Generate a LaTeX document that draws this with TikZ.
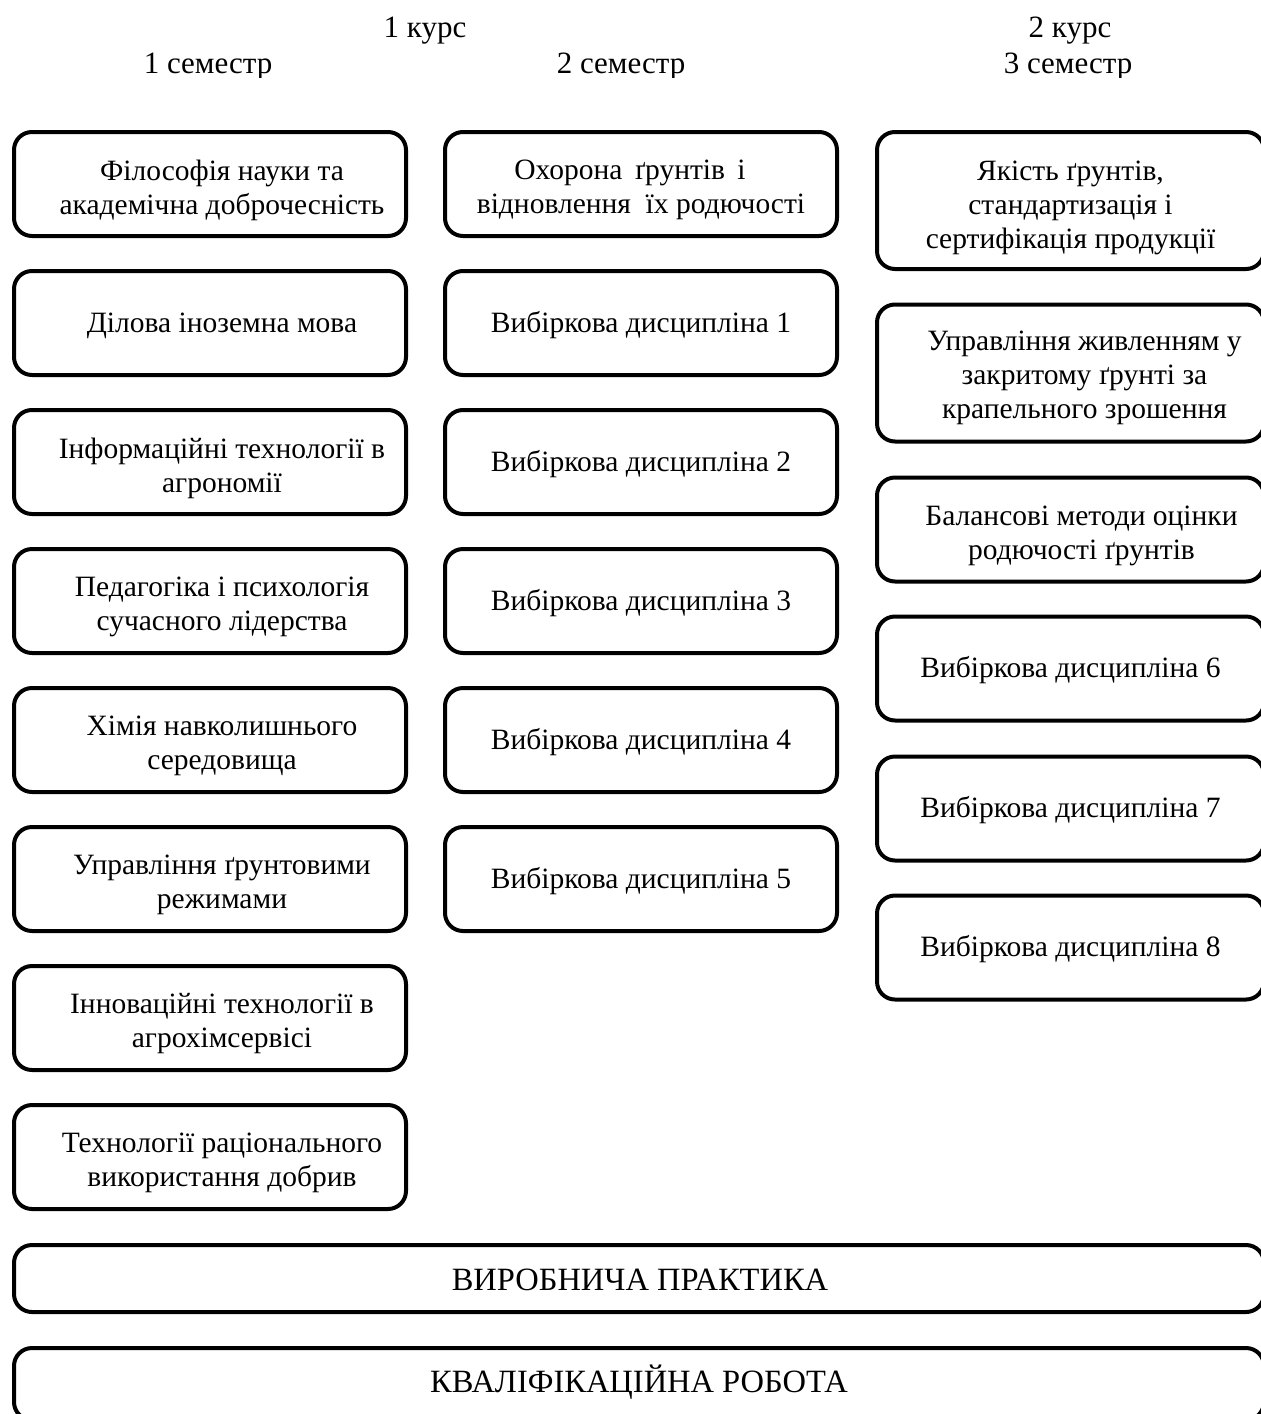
\documentclass[tikz,border=0pt]{standalone}
\usepackage{fontspec}
\setmainfont{Liberation Serif}
\begin{document}
\begin{tikzpicture}[x=1pt,y=-1pt,
  box/.style={draw, line width=4pt, rounded corners=18pt, inner sep=0pt},
  cA/.style={box, minimum width=392pt, minimum height=104pt},
  cC/.style={box, minimum width=387pt, minimum height=104pt},
  cCt/.style={box, minimum width=387pt, minimum height=137pt},
  wide/.style={box, minimum width=1250pt},
  txt/.style={font=\fontsize{29.5}{34}\selectfont, align=center, inner sep=0pt},
  bigtxt/.style={font=\fontsize{32.5}{36}\selectfont, inner sep=0pt},
  head/.style={font=\fontsize{31}{36}\selectfont, inner sep=0pt, anchor=base}]
\useasboundingbox (0,0) rectangle (1261,1414);
\clip (0,0) rectangle (1261,1414);
% headers
\node[head] (k1) at (425,37) {1 курс};
\node[head] (k2) at (1070,37) {2 курс};
\begin{scope}
\clip (0,0) rectangle (1261,77);
\node[head] (s1) at (208,73) {1 семестр};
\node[head] (s2) at (621,73) {2 семестр};
\node[head] (s3) at (1068,73) {3 семестр};
\end{scope}
% column 1
\node[cA] (a1) at (210,184) {};
\node[cA] (a2) at (210,323) {};
\node[cA] (a3) at (210,462) {};
\node[cA] (a4) at (210,601) {};
\node[cA] (a5) at (210,740) {};
\node[cA] (a6) at (210,879) {};
\node[cA] (a7) at (210,1018) {};
\node[cA] (a8) at (210,1157) {};
\node[txt] (a1t) at ([shift={(12,6)}]a1.center) {Філософія науки та\\академічна доброчесність};
\node[txt] (a2t) at ([shift={(12,3)}]a2.center) {Ділова іноземна мова};
\node[txt] (a3t) at ([shift={(12,6)}]a3.center) {Інформаційні технології в\\агрономії};
\node[txt] (a4t) at ([shift={(12,6)}]a4.center) {Педагогіка і психологія\\сучасного лідерства};
\node[txt] (a5t) at ([shift={(12,6)}]a5.center) {Хімія навколишнього\\середовища};
\node[txt] (a6t) at ([shift={(12,6)}]a6.center) {Управління ґрунтовими\\режимами};
\node[txt] (a7t) at ([shift={(12,6)}]a7.center) {Інноваційні технології в\\агрохімсервісі};
\node[txt] (a8t) at ([shift={(12,6)}]a8.center) {Технології раціонального\\використання добрив};
% column 2
\node[cA] (b1) at (641,184) {};
\node[cA] (b2) at (641,323) {};
\node[cA] (b3) at (641,462) {};
\node[cA] (b4) at (641,601) {};
\node[cA] (b5) at (641,740) {};
\node[cA] (b6) at (641,879) {};
\node[txt] (b1t) at ([shift={(0,6)}]b1.center) {Охорона\hspace{5pt} ґрунтів\hspace{5pt} і\hspace*{22pt}\\відновлення\ \ їх родючості};
\node[txt] (b2t) at ([shift={(0,2)}]b2.center) {Вибіркова дисципліна 1};
\node[txt] (b3t) at ([shift={(0,2)}]b3.center) {Вибіркова дисципліна 2};
\node[txt] (b4t) at ([shift={(0,2)}]b4.center) {Вибіркова дисципліна 3};
\node[txt] (b5t) at ([shift={(0,2)}]b5.center) {Вибіркова дисципліна 4};
\node[txt] (b6t) at ([shift={(0,2)}]b6.center) {Вибіркова дисципліна 5};
% column 3
\node[cCt] (c1) at (1070.5,200.5) {};
\node[cCt] (c2) at (1070.5,373) {};
\node[cC] (c3) at (1070.5,529.5) {};
\node[cC] (c4) at (1070.5,668.5) {};
\node[cC] (c5) at (1070.5,808.5) {};
\node[cC] (c6) at (1070.5,947.5) {};
\node[txt] (c1t) at ([shift={(0,7)}]c1.center) {Якість ґрунтів,\\стандартизація і\\сертифікація продукції};
\node[txt] (c2t) at ([shift={(14,5)}]c2.center) {Управління живленням у\\закритому ґрунті за\\крапельного зрошення};
\node[txt] (c3t) at ([shift={(11,6)}]c3.center) {Балансові методи оцінки\\родючості ґрунтів};
\node[txt] (c4t) at ([shift={(0,2)}]c4.center) {Вибіркова дисципліна 6};
\node[txt] (c5t) at ([shift={(0,2)}]c5.center) {Вибіркова дисципліна 7};
\node[txt] (c6t) at ([shift={(0,2)}]c6.center) {Вибіркова дисципліна 8};
% bottom
\node[wide, minimum height=67pt] (p) at (639,1278.5) {};
\node[wide, minimum height=72pt] (q) at (639,1384) {};
\node[bigtxt] (pt) at ([shift={(1,1)}]p.center) {ВИРОБНИЧА ПРАКТИКА};
\node[bigtxt] (qt) at ([shift={(0,-2)}]q.center) {КВАЛІФІКАЦІЙНА РОБОТА};
\end{tikzpicture}
\end{document}
